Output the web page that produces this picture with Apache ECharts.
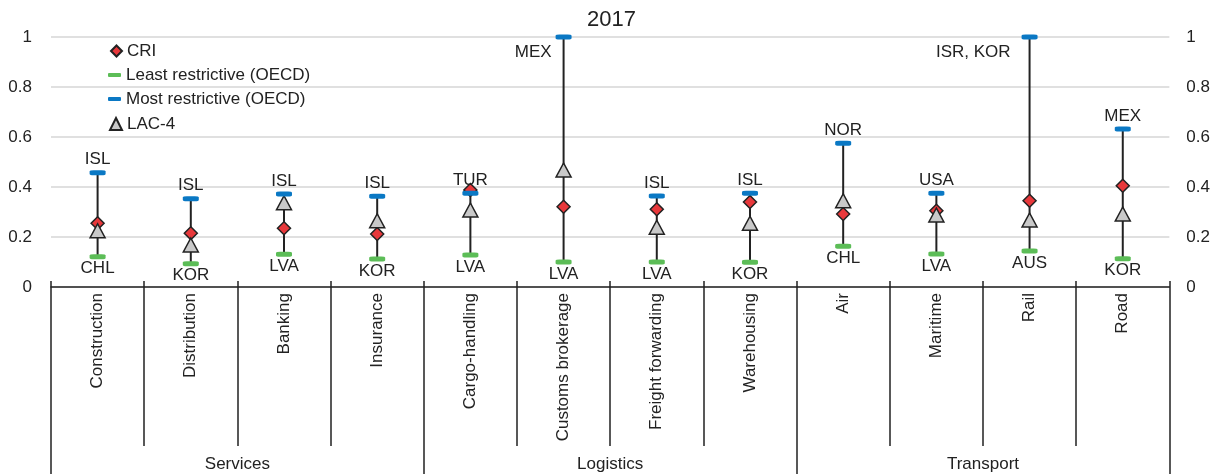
<!DOCTYPE html>
<html>
<head>
<meta charset="utf-8">
<script src="https://cdn.jsdelivr.net/npm/echarts@6/dist/echarts.min.js"></script>
<style>
  html, body { margin: 0; padding: 0; background: #fff; }
  #chart { width: 1213px; height: 474px; }
</style>
</head>
<body>
<div id="chart"></div>
<script>
// categories and groups
const categories = ['Construction', 'Distribution', 'Banking', 'Insurance', 'Cargo-handling', 'Customs brokerage',
  'Freight forwarding', 'Warehousing', 'Air', 'Maritime', 'Rail', 'Road']
const groups = ['Services', 'Logistics', 'Transport']

// index values
const cri = [0.255, 0.215, 0.235, 0.212, 0.388, 0.321, 0.311, 0.340, 0.292, 0.305, 0.345, 0.405]
const lac4 = [0.225, 0.168, 0.337, 0.265, 0.308, 0.468, 0.239, 0.255, 0.345, 0.288, 0.268, 0.292]
const leastVal = [0.121, 0.093, 0.131, 0.112, 0.128, 0.100, 0.100, 0.099, 0.163, 0.132, 0.144, 0.113]
const mostVal = [0.457, 0.353, 0.372, 0.363, 0.375, 1.0, 0.364, 0.375, 0.575, 0.375, 1.0, 0.632]
const leastCountry = ['CHL', 'KOR', 'LVA', 'KOR', 'LVA', 'LVA', 'LVA', 'KOR', 'CHL', 'LVA', 'AUS', 'KOR']
const mostCountry = ['ISL', 'ISL', 'ISL', 'ISL', 'TUR', 'MEX', 'ISL', 'ISL', 'NOR', 'USA', 'ISR, KOR', 'MEX']

const FONT = "'Liberation Sans', Arial, sans-serif"
const INK = '#222'

let chart = echarts.init(document.getElementById('chart'), null, { renderer: 'canvas' })

// labels of the two tall bars sit left of the bar, below its top
const sideLabel = {
  5: { position: [-4, 9], align: 'right', verticalAlign: 'top' },
  10: { position: [-11, 9], align: 'right', verticalAlign: 'top' }
}

let rangeData = categories.map((c, i) => [i, leastVal[i], mostVal[i]])
let mostData = mostVal.map((v, i) => {
  let item = { value: [i, v] }
  if (sideLabel[i]) item.label = sideLabel[i]
  return item
})

function legendFor(name, icon, w, h, centerY) {
  return {
    data: [name],
    icon: icon,
    itemWidth: w,
    itemHeight: h,
    left: 121 - w,
    top: centerY - 10,
    padding: 0,
    selectedMode: false,
    textStyle: { fontFamily: FONT, fontSize: 17, color: INK, lineHeight: 20 }
  }
}

let option = {
  animation: false,
  title: {
    text: '2017',
    left: 587,
    top: 9,
    padding: 0,
    textStyle: { fontFamily: FONT, fontSize: 22, fontWeight: 'normal', color: INK }
  },
  legend: [
    legendFor('CRI', 'diamond', 11, 11, 51),
    legendFor('Least restrictive (OECD)', 'roundRect', 13, 4, 75),
    legendFor('Most restrictive (OECD)', 'roundRect', 13, 4, 99),
    legendFor('LAC-4', 'triangle', 12, 12, 124)
  ],
  grid: { left: 51, right: 43, top: 37, bottom: 187, containLabel: false },
  xAxis: [
    {
      type: 'category',
      data: categories,
      position: 'bottom',
      axisLine: { lineStyle: { color: INK, width: 1.5 } },
      axisTick: { show: true, length: 159, interval: 0, lineStyle: { color: INK, width: 1.5 } },
      axisLabel: { interval: 0, rotate: 90, margin: 6, fontFamily: FONT, fontSize: 17, color: INK }
    },
    {
      // group row
      type: 'category',
      data: groups,
      position: 'bottom',
      axisLine: { show: false },
      axisTick: { show: true, length: 190, interval: 0, lineStyle: { color: INK, width: 1.5 } },
      axisLabel: { interval: 0, margin: 169, fontFamily: FONT, fontSize: 17, color: INK }
    },
    {
      // small ticks poking above the axis
      type: 'category',
      data: categories,
      position: 'bottom',
      axisLine: { show: false },
      axisTick: { show: true, inside: true, length: 6, interval: 0, lineStyle: { color: INK, width: 1.5 } },
      axisLabel: { show: false }
    }
  ],
  yAxis: [
    {
      type: 'value', min: 0, max: 1, interval: 0.2, position: 'left',
      axisLine: { show: false }, axisTick: { show: false },
      splitLine: { lineStyle: { color: '#d6d6d6', width: 1.5 } },
      axisLabel: { margin: 19, fontFamily: FONT, fontSize: 17, color: INK }
    },
    {
      type: 'value', min: 0, max: 1, interval: 0.2, position: 'right',
      axisLine: { show: false }, axisTick: { show: false }, splitLine: { show: false },
      axisLabel: { margin: 17, fontFamily: FONT, fontSize: 17, color: INK }
    }
  ],
  series: [
    {
      name: 'range',
      type: 'custom',
      z: 1,
      data: rangeData,
      encode: { x: 0, y: [1, 2] },
      renderItem: function (params, api) {
        let lo = api.coord([api.value(0), api.value(1)])
        let hi = api.coord([api.value(0), api.value(2)])
        return {
          type: 'line',
          shape: { x1: lo[0], y1: lo[1], x2: hi[0], y2: hi[1] },
          style: { stroke: INK, lineWidth: 2 }
        }
      }
    },
    {
      name: 'CRI',
      type: 'scatter',
      z: 3,
      symbol: 'diamond',
      symbolSize: 13,
      itemStyle: { color: '#e8383b', borderColor: INK, borderWidth: 1.5, opacity: 1 },
      data: cri.map((v, i) => [i, v])
    },
    {
      name: 'LAC-4',
      type: 'scatter',
      z: 4,
      symbol: 'triangle',
      symbolSize: [15, 14],
      itemStyle: { color: '#c9c9c9', borderColor: INK, borderWidth: 1.5, opacity: 1 },
      data: lac4.map((v, i) => [i, v])
    },
    {
      name: 'Least restrictive (OECD)',
      type: 'scatter',
      z: 5,
      symbol: 'roundRect',
      symbolSize: [16, 5],
      itemStyle: { color: '#5cbd57', opacity: 1 },
      label: {
        show: true, position: 'bottom', distance: 1,
        fontFamily: FONT, fontSize: 17, color: INK,
        formatter: p => leastCountry[p.dataIndex]
      },
      data: leastVal.map((v, i) => [i, v])
    },
    {
      name: 'Most restrictive (OECD)',
      type: 'scatter',
      z: 5,
      symbol: 'roundRect',
      symbolSize: [16, 5],
      itemStyle: { color: '#0a78c4', opacity: 1 },
      label: {
        show: true, position: 'top', distance: 2,
        fontFamily: FONT, fontSize: 17, color: INK,
        formatter: p => mostCountry[p.dataIndex]
      },
      data: mostData
    }
  ]
}

chart.setOption(option)
</script>
</body>
</html>
